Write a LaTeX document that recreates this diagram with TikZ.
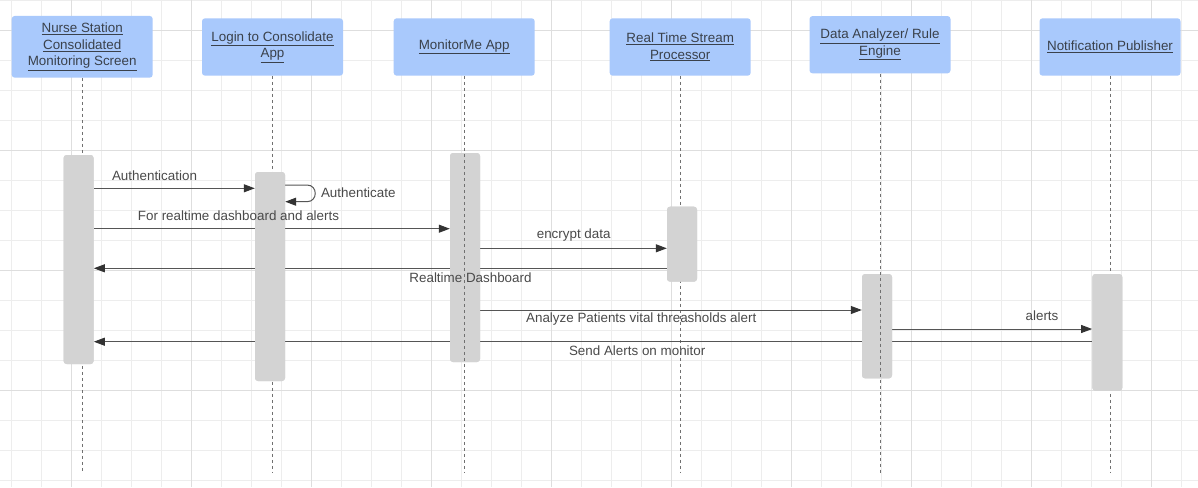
\documentclass[tikz,border=0pt]{standalone}
\usepackage{fontspec}
\setmainfont{Liberation Sans}
\usetikzlibrary{arrows.meta}
\definecolor{gridminor}{HTML}{EDEDED}
\definecolor{gridmajor}{HTML}{DEDEDE}
\definecolor{hdrfill}{HTML}{A9C9FC}
\definecolor{hdrtext}{HTML}{3A414B}
\definecolor{barfill}{HTML}{D3D3D3}
\definecolor{msgline}{HTML}{555555}
\definecolor{tipfill}{HTML}{333333}
\definecolor{msgtext}{HTML}{4A4A4A}
\definecolor{lifeline}{HTML}{707070}
\begin{document}
\begin{tikzpicture}[x=1pt,y=-1pt,
  hdr/.style={fill=hdrfill,rounded corners=3pt,minimum width=141pt,inner sep=0pt,
    text=hdrtext,align=center,font=\fontsize{13.4}{16.5}\selectfont},
  actbar/.style={fill=barfill,rounded corners=3pt,minimum width=30pt,inner sep=0pt},
  life/.style={draw=lifeline,line width=0.9pt,dash pattern=on 3pt off 3pt},
  msg/.style={draw=msgline,line width=1pt,-{Triangle[length=11pt,width=8pt,fill=tipfill,color=tipfill]}},
  lbl/.style={text=msgtext,inner sep=0pt,font=\fontsize{13.4}{15}\selectfont},
  gmin/.style={draw=gridminor,line width=0.7pt},
  gmaj/.style={draw=gridmajor,line width=0.8pt}]
\useasboundingbox (0,0) rectangle (1198,487);
\fill[white] (0,0) rectangle (1198,487);
% grid
\foreach \i in {0,...,39} {\draw[gmin] (11.5+30*\i,0) -- (11.5+30*\i,487);}
\foreach \j in {0,...,16} {\draw[gmin] (0,0.3+30*\j) -- (1198,0.3+30*\j);}
\foreach \i in {0,...,9} {\draw[gmaj] (71.5+120*\i,0) -- (71.5+120*\i,487);}
\foreach \j in {0,...,3} {\draw[gmaj] (0,30.3+120*\j) -- (1198,30.3+120*\j);}
% headers
\node[hdr,minimum height=61.7pt] (h1) at (82.2,46.8) {\underline{Nurse Station}\\\underline{Consolidated}\\\underline{Monitoring Screen}};
\node[hdr,minimum height=57.4pt] (h2) at (272.5,47) {\underline{Login to Consolidate}\\\underline{App}};
\node[hdr,minimum height=57.4pt] (h3) at (464.2,47) {\underline{MonitorMe App}};
\node[hdr,minimum height=57.4pt] (h4) at (680.2,47) {\underline{Real Time Stream}\\\underline{Processor}};
\node[hdr,minimum height=57.3pt] (h5) at (880,44.7) {\underline{Data Analyzer/ Rule}\\\underline{Engine}};
\node[hdr,minimum height=57.4pt] (h6) at (1110,47) {\underline{Notification Publisher}};
% lifeline end points
\coordinate (e1) at (82,473);
\coordinate (e2) at (272.5,473);
\coordinate (e3) at (464.2,473);
\coordinate (e4) at (680.2,473);
\coordinate (e5) at (880,473);
\coordinate (e6) at (1110,473);
% lifelines behind bars
\draw[life] ([xshift=-0.2pt]h1.south) -- (e1);
\draw[life] (h2.south) -- (e2);
\draw[life] (h4.south) -- (e4);
\draw[life] (h6.south) -- (e6);
% activation bars (named)
\node[actbar,minimum height=209pt] (b1) at (78.6,259.5) {};
\node[actbar,minimum height=209pt] (b2) at (270,276.5) {};
\node[actbar,minimum height=209pt] (b3) at (465,257.5) {};
\node[actbar,minimum height=75pt] (b4) at (682,244.2) {};
\node[actbar,minimum height=104.3pt] (b5) at (877,326.2) {};
\node[actbar,minimum height=116.7pt] (b6) at (1107.3,332.4) {};
% messages
\draw[msg] (b1.east |- 0,188.3) -- (b2.west |- 0,188.3);
\draw[msg] (b2.east |- 0,185) -- (307,185) .. controls (318,185) and (318,201.7) .. (307,201.7) -- (b2.east |- 0,201.7);
\draw[msg] (b1.east |- 0,228.7) -- (b3.west |- 0,228.7);
\draw[msg] (b3.east |- 0,248.3) -- (b4.west |- 0,248.3);
\draw[msg] (b4.west |- 0,268.3) -- (b1.east |- 0,268.3);
\draw[msg] (b3.east |- 0,310) -- (b5.west |- 0,310);
\draw[msg] (b5.east |- 0,329) -- (b6.west |- 0,329);
\draw[msg] (b6.west |- 0,341.7) -- (b1.east |- 0,341.7);
% bars again on top of message lines (they hide the lines)
\foreach \b/\x/\y/\h in {b1/78.6/259.5/209, b2/270/276.5/209, b3/465/257.5/209, b4/682/244.2/75, b5/877/326.2/104.3, b6/1107.3/332.4/116.7} {
  \fill[barfill,rounded corners=3pt] (\x-15,\y-\h/2) rectangle (\x+15,\y+\h/2);
}
% lifelines in front of bars
\draw[life] (h3.south) -- (e3);
\draw[life] (h5.south) -- (e5);
% labels
\node[lbl] (l1) at (154.5,175.7) {Authentication};
\node[lbl] (l2) at (358.3,192.7) {Authenticate};
\node[lbl] (l3) at (238.5,215.7) {For realtime dashboard and alerts};
\node[lbl] (l4) at (573.7,235) {encrypt data};
\node[lbl] (l5) at (470.5,277.5) {Realtime Dashboard};
\node[lbl] (l6) at (641.2,319.3) {Analyze Patients vital threasholds alert};
\node[lbl] (l7) at (1042,315.7) {alerts};
\node[lbl] (l8) at (637.2,350.7) {Send Alerts on monitor};
\end{tikzpicture}
\end{document}
